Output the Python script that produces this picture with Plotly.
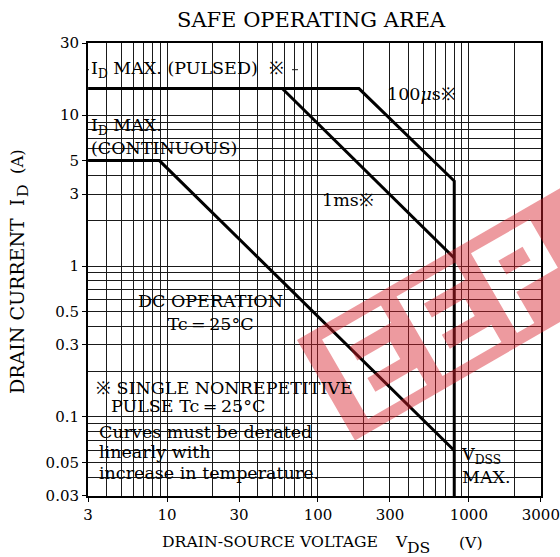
import numpy as np
import plotly.graph_objects as go

# ---------------- data ----------------
vds_100us = [3, 187, 800, 800]          # pulsed ID max + 100us limit + VDSS max
id_100us = [15, 15, 3.66, 0.03]
vds_1ms = [58, 800]
id_1ms = [15, 1.13]
vds_dc = [3, 8.9, 800]
id_dc = [5, 5, 0.06]

x_ticks = [3, 10, 30, 100, 300, 1000, 3000]
x_tick_labels = ["3", "10", "30", "100", "300", "1000", "3000"]
y_ticks = [0.03, 0.05, 0.1, 0.3, 0.5, 1, 3, 5, 10, 30]
y_tick_labels = ["0.03", "0.05", "0.1", "0.3", "0.5", "1", "3", "5", "10", "30"]
x_minor = [4, 5, 6, 7, 8, 9, 20, 40, 50, 60, 70, 80, 90,
           200, 400, 500, 600, 700, 800, 900, 2000]
y_minor = [0.04, 0.06, 0.07, 0.08, 0.09, 0.2, 0.4, 0.6, 0.7, 0.8, 0.9,
           2, 4, 6, 7, 8, 9]

# ---------------- layout geometry ----------------
W, H = 560, 557
L, R, T, B = 88, 541, 43, 496
FONT = "DejaVu Serif"
GRID = "#1a1a1a"
FS = 17.5
EPS = 0.0008


def px(x):
    return (x - L) / (R - L)


def py(y):
    return (B - y) / (B - T)


fig = go.Figure()
for xs, ys in [(vds_100us, id_100us), (vds_1ms, id_1ms), (vds_dc, id_dc)]:
    fig.add_trace(go.Scatter(x=xs, y=ys, mode="lines",
                             line=dict(color="black", width=3),
                             hoverinfo="skip", showlegend=False))

shapes = []
# partial 20 A grid line
shapes.append(dict(type="line", xref="paper", yref="y", x0=0, x1=px(298),
                   y0=20, y1=20, line=dict(color=GRID, width=1), layer="between"))
# white label boxes hiding the grid
boxes = [(89, 292, 53, 87.5), (89, 233, 117, 157), (384, 457, 82, 107),
         (319, 376, 186, 212), (133, 289, 292, 338), (89, 362.7, 373.6, 495),
         (458, 518, 437, 492)]
for x0, x1, y0, y1 in boxes:
    shapes.append(dict(type="rect", xref="paper", yref="paper",
                       x0=px(x0), x1=px(x1), y0=py(y1), y1=py(y0),
                       fillcolor="white", line=dict(width=0), layer="between"))

# watermark (red band with letter holes)
O = np.array([297.0, 340.0])
d = np.array([0.866, -0.5])
n = np.array([0.5, 0.866])


def loc(u, v):
    p = O + u * d + v * n
    return f"{px(p[0]):.4f},{py(p[1]):.4f}"


def poly(pts):
    return "M" + " L".join(loc(u, v) for u, v in pts) + " Z "


path = poly([(0, 0), (360, 0), (360, 116), (0, 116)])
t, v1, v2, lw = 20, 12, 104, 68
vm = (v1 + v2) / 2
for u0 in (22, 108):
    path += poly([(u0, v1), (u0 + lw, v1), (u0 + lw, v1 + t), (u0 + t, v1 + t),
                  (u0 + t, vm - t / 2), (u0 + lw - 10, vm - t / 2),
                  (u0 + lw - 10, vm + t / 2), (u0 + t, vm + t / 2),
                  (u0 + t, v2 - t), (u0 + lw, v2 - t), (u0 + lw, v2), (u0, v2)])
u0 = 194
path += poly([(u0, v1), (u0 + lw, v1), (u0 + lw, vm + t / 2), (u0 + t, vm + t / 2),
              (u0 + t, v2), (u0, v2)])
path += poly([(u0 + t, v1 + t), (u0 + lw - t, v1 + t), (u0 + lw - t, vm - t / 2),
              (u0 + t, vm - t / 2)])
shapes.append(dict(type="path", xref="paper", yref="paper", path=path,
                   fillcolor="rgba(214,30,42,0.45)", fillrule="evenodd",
                   line=dict(width=0), layer="above"))

ann = []


def text(x, y, s, size=FS, xanchor="left", align="left", angle=0):
    ann.append(dict(x=px(x), y=py(y), xref="paper", yref="paper", text=s,
                    showarrow=False, xanchor=xanchor, yanchor="middle", align=align,
                    textangle=angle,
                    font=dict(family=FONT, size=size, color="black")))


text(311, 20, "SAFE OPERATING AREA", size=21, xanchor="center")
text(89, 70, "I<sub>D</sub> MAX. (PULSED)\u00a0 ※")
text(89, 137, "I<sub>D</sub> MAX.<br>(CONTINUOUS)")
text(385, 94, "100<i>μ</i>s※")
text(320, 200, "1ms※")
text(210, 313, "DC OPERATION<br>Tc\u2009=\u200925°C", xanchor="center", align="center")
text(94, 388, "※ SINGLE NONREPETITIVE")
text(109, 406, "PULSE Tc\u2009=\u200925°C")
text(97, 432, "Curves must be derated")
text(97, 452, "linearly with")
text(97, 473, "increase in temperature.")
text(459, 465, "V<sub>DSS</sub><br>MAX.")

# x-axis title pieces
text(160, 541, "DRAIN-SOURCE VOLTAGE", size=15.7)
text(393, 541, "V", size=15.7)
text(405, 547, "DS", size=15.7)
text(457, 542, "(V)", size=15.7)
# y-axis title pieces
text(17, 306, "DRAIN CURRENT", size=19, xanchor="center", angle=-90)
text(17, 203, "I", size=18, xanchor="center", angle=-90)
text(22, 191, "D", size=15.7, xanchor="center", angle=-90)
text(17, 162, "(A)", size=16.5, xanchor="center", angle=-90)

axis_common = dict(type="log", showgrid=True, gridcolor=GRID, gridwidth=1,
                   showline=True, linecolor="black", linewidth=2, mirror=True,
                   ticks="outside", ticklen=4, tickcolor="black", tickwidth=1,
                   zeroline=False, tickmode="array", automargin=False,
                   tickfont=dict(family=FONT, size=15, color="black"))

fig.update_layout(
    width=W, height=H, margin=dict(l=L, r=W - R, t=T, b=H - B, autoexpand=False),
    paper_bgcolor="white", plot_bgcolor="white", showlegend=False,
    xaxis=dict(range=[np.log10(3) - EPS, np.log10(3000) + EPS], tickvals=x_ticks,
               ticktext=x_tick_labels,
               minor=dict(tickmode="array", tickvals=x_minor, showgrid=True,
                          gridcolor=GRID, gridwidth=1, ticks=""),
               **axis_common),
    yaxis=dict(range=[np.log10(0.03) - EPS, np.log10(30) + EPS], tickvals=y_ticks,
               ticktext=y_tick_labels,
               minor=dict(tickmode="array", tickvals=y_minor, showgrid=True,
                          gridcolor=GRID, gridwidth=1, ticks=""),
               **axis_common),
    shapes=shapes, annotations=ann,
)

fig.write_html("out.html", config={"displayModeBar": False},
               post_script="document.body.style.margin='0';")
